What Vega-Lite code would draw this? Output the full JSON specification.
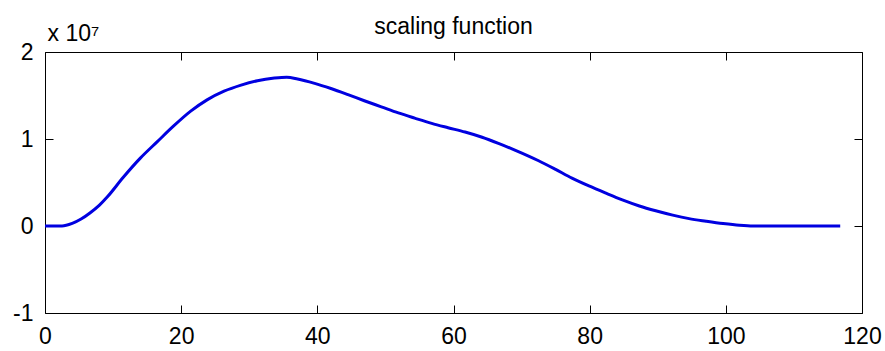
{
  "$schema": "https://vega.github.io/schema/vega-lite/v6.json",
  "width": 817,
  "height": 261,
  "autosize": {"type": "none"},
  "padding": {"left": 45, "top": 52, "right": 23, "bottom": 38},
  "background": "white",
  "title": {
    "text": "scaling function",
    "font": "Liberation Sans",
    "fontSize": 23,
    "fontWeight": "normal",
    "color": "black",
    "anchor": "middle",
    "frame": "group",
    "baseline": "alphabetic",
    "offset": 0,
    "dy": 35
  },
  "config": {
    "view": {"stroke": null},
    "axis": {
      "grid": false,
      "domainColor": "black",
      "domainWidth": 1,
      "tickColor": "black",
      "tickWidth": 1,
      "tickSize": -8,
      "labelPadding": 20,
      "labelFont": "Liberation Sans",
      "labelFontSize": 23,
      "labelColor": "black",
      "labelFlush": false,
      "labelOverlap": false,
      "labelBound": false,
      "titleFont": "Liberation Sans",
      "titleFontSize": 23,
      "titleFontWeight": "normal",
      "titleColor": "black"
    }
  },
  "data": {
    "values": [
      {"x": 0, "y": 0},
      {"x": 2.5, "y": 0},
      {"x": 4.0, "y": 300000},
      {"x": 5.3, "y": 800000},
      {"x": 6.6, "y": 1500000},
      {"x": 8.0, "y": 2400000},
      {"x": 9.1, "y": 3300000},
      {"x": 11.5, "y": 5600000},
      {"x": 14.0, "y": 7800000},
      {"x": 16.5, "y": 9700000},
      {"x": 18.9, "y": 11500000},
      {"x": 21.4, "y": 13200000},
      {"x": 23.8, "y": 14500000},
      {"x": 26.3, "y": 15500000},
      {"x": 28.8, "y": 16200000},
      {"x": 31.2, "y": 16700000},
      {"x": 33.7, "y": 17000000},
      {"x": 35.5, "y": 17100000},
      {"x": 37.1, "y": 16900000},
      {"x": 39.6, "y": 16400000},
      {"x": 42.0, "y": 15800000},
      {"x": 44.5, "y": 15100000},
      {"x": 46.9, "y": 14400000},
      {"x": 49.4, "y": 13700000},
      {"x": 51.9, "y": 13000000},
      {"x": 54.3, "y": 12400000},
      {"x": 56.8, "y": 11800000},
      {"x": 59.2, "y": 11300000},
      {"x": 61.7, "y": 10800000},
      {"x": 64.2, "y": 10200000},
      {"x": 66.6, "y": 9500000},
      {"x": 69.1, "y": 8700000},
      {"x": 72.5, "y": 7500000},
      {"x": 75.0, "y": 6500000},
      {"x": 77.4, "y": 5500000},
      {"x": 79.9, "y": 4600000},
      {"x": 82.3, "y": 3800000},
      {"x": 84.8, "y": 3000000},
      {"x": 87.3, "y": 2300000},
      {"x": 89.7, "y": 1750000},
      {"x": 92.2, "y": 1250000},
      {"x": 94.6, "y": 850000},
      {"x": 97.1, "y": 550000},
      {"x": 99.6, "y": 280000},
      {"x": 102.0, "y": 80000},
      {"x": 104.0, "y": 0},
      {"x": 116.8, "y": 0}
    ]
  },
  "layer": [
    {
      "mark": {"type": "line", "color": "#0000e0", "strokeWidth": 3, "interpolate": "monotone"},
      "encoding": {
        "x": {
          "field": "x", "type": "quantitative",
          "scale": {"domain": [0, 120], "nice": false, "zero": false},
          "axis": {"orient": "bottom", "values": [0, 20, 40, 60, 80, 100, 120], "title": null}
        },
        "y": {
          "field": "y", "type": "quantitative",
          "scale": {"domain": [-10000000, 20000000], "nice": false, "zero": false},
          "axis": {
            "orient": "left",
            "values": [-10000000, 0, 10000000, 20000000],
            "labelExpr": "'' + round(datum.value / 10000000)",
            "title": "x 10⁷",
            "titleAngle": 0,
            "titleAlign": "left",
            "titleBaseline": "alphabetic",
            "titleX": 2,
            "titleY": -12
          }
        }
      }
    },
    {
      "mark": {"type": "line", "strokeOpacity": 0},
      "encoding": {
        "x": {
          "field": "x", "type": "quantitative",
          "axis": {"orient": "top", "values": [0, 20, 40, 60, 80, 100, 120], "labels": false, "title": null}
        },
        "y": {
          "field": "y", "type": "quantitative",
          "axis": {"orient": "right", "values": [-10000000, 0, 10000000, 20000000], "labels": false, "title": null}
        }
      }
    }
  ],
  "resolve": {"axis": {"x": "independent", "y": "independent"}}
}
